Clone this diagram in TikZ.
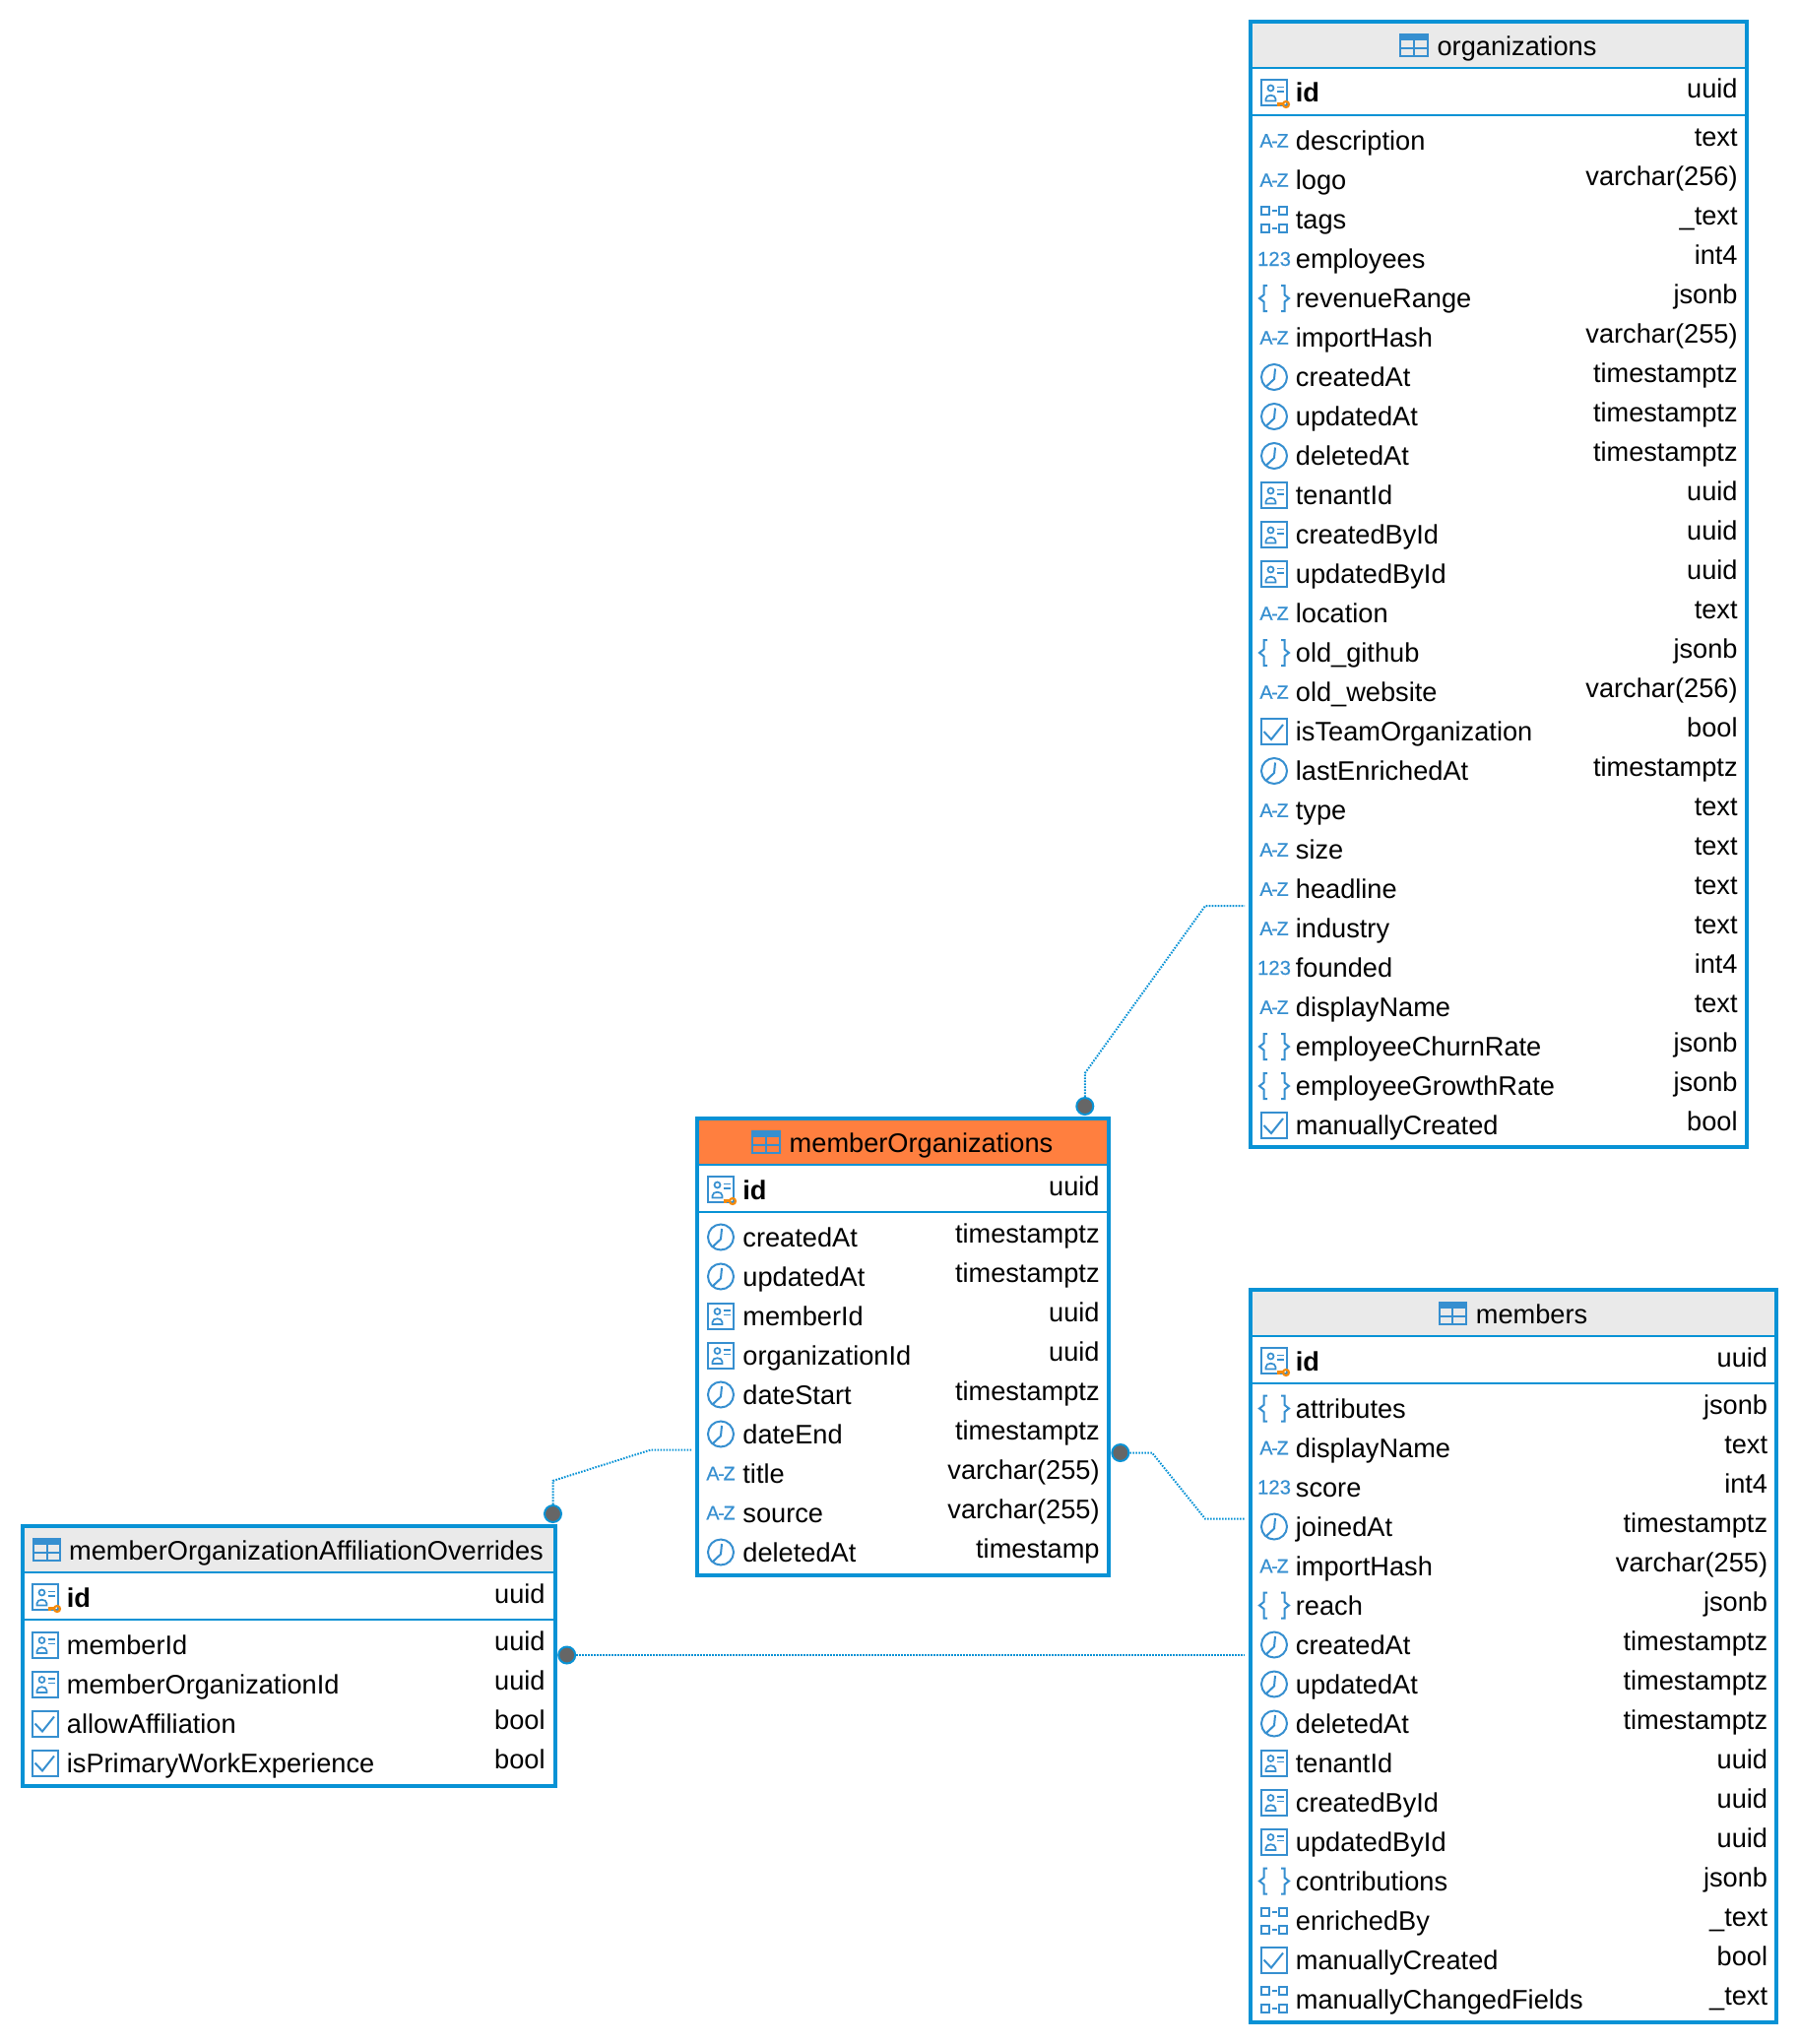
\documentclass[tikz,border=0pt]{standalone}
\usepackage{fontspec}
\setmainfont{Liberation Sans}
\newfontfamily\iconfont[FakeBold=0.35]{Liberation Sans}
\usepackage{tikz}
\usetikzlibrary{
    positioning,
    calc,
    fit
}
\definecolor{FrameBlue}{RGB}{8,146,213}
\definecolor{IconBlue}{RGB}{54,143,208}
\definecolor{HeadGray}{RGB}{234,234,234}
\definecolor{HeadOrange}{RGB}{255,127,63}
\definecolor{KeyOrange}{RGB}{245,138,11}
\definecolor{DotGray}{RGB}{102,102,102}

\tikzset{
    % table parts
    tablehead/.style={draw=FrameBlue, line width=1pt, fill=HeadGray, outer sep=0pt, inner sep=0pt, minimum height=23.5pt},
    tablekey/.style={draw=FrameBlue, line width=1pt, outer sep=0pt, inner sep=0pt, minimum height=24pt},
    tablebody/.style={draw=FrameBlue, line width=1pt, outer sep=0pt, inner sep=0pt},
    tableframe/.style={draw=FrameBlue, line width=2pt, inner sep=0pt, outer sep=0pt},
    tabletitle/.style={anchor=base, inner sep=0pt},
    colname/.style={anchor=base west, inner sep=0pt},
    coltype/.style={anchor=base east, inner sep=0pt},
    % connectors
    endpoint/.style={circle, draw=FrameBlue, line width=1pt, fill=DotGray, inner sep=0pt, minimum size=8.5pt},
    relation/.style={draw=FrameBlue, line width=1pt, dash pattern=on 0.8pt off 0.7pt},
    iconline/.style={draw=IconBlue, line width=1pt},
    iconthin/.style={draw=IconBlue, line width=0.85pt},
    % column icons, drawn in pixels
    pics/iconTable/.style={code={
        \fill[IconBlue] (-13.7,-10.8) rectangle (13.7,-5.5);
        \draw[iconline] (-13.7,-10.8) rectangle (13.7,10.8);
        \draw[iconline] (0,-6) -- (0,10.8) (-13.7,2.5) -- (13.7,2.5);
    }},
    pics/iconUuid/.style={code={
        \draw[iconline] (-13,-13) rectangle (13,13);
        \draw[iconthin] (-3.5,-4.5) circle[radius=3];
        \draw[iconthin] (2.5,-5.5) -- (10,-5.5) (2.5,-1) -- (10,-1);
        \draw[iconthin] (-8.5,8.5) -- (1.5,8.5) -- (1.5,6.5)
            .. controls (1.5,1.5) and (-8.5,1.5) .. (-8.5,6.5) -- cycle;
    }},
    pics/iconPkey/.style={code={
        \pic {iconUuid};
        \draw[KeyOrange, line width=1.1pt] (2.5,11.5) -- (9,11.5) (4.5,11.5) -- (4.5,14);
        \draw[KeyOrange, line width=1.1pt] (12,12) circle[radius=3];
    }},
    pics/iconClock/.style={code={
        \draw[iconline] (0,0) circle[radius=13];
        \draw[iconline] (1,-8.5) -- (0,2) -- (-8,9.5);
    }},
    pics/iconCheck/.style={code={
        \draw[iconline] (-13,-13) rectangle (13,13);
        \draw[iconline] (-10.5,0) -- (-3,8) -- (9,-7);
    }},
    pics/iconArray/.style={code={
        \draw[iconline] (-13,-13) rectangle (-5,-5) (5,-13) rectangle (13,-5);
        \draw[iconline] (-13,5) rectangle (-5,13) (5,5) rectangle (13,13);
        \draw[iconline] (-2.5,-9) -- (2.5,-9) (-2.5,9) -- (2.5,9);
    }},
    pics/iconJson/.style={code={
        \draw[iconline] (-7,-13) -- (-10.5,-13) -- (-10.5,-3.5) -- (-15,0) -- (-10.5,3.5) -- (-10.5,13) -- (-7,13);
        \draw[iconline] (7,-13) -- (10.5,-13) -- (10.5,-3.5) -- (15,0) -- (10.5,3.5) -- (10.5,13) -- (7,13);
    }},
    pics/iconText/.style={code={
        \node[IconBlue, inner sep=0pt, font=\iconfont\fontsize{9.8pt}{10pt}\selectfont] (azGlyph) at (0,0) {A\kern-0.6pt-\kern-0.6pt Z};
    }},
    pics/iconNumber/.style={code={
        \node[IconBlue, inner sep=0pt, font=\iconfont\fontsize{10.2pt}{10pt}\selectfont] (numGlyph) at (0,0) {123};
    }},
}

\begin{document}
\begin{tikzpicture}[
                    x=0.5pt, y=-0.5pt,
                    font=\fontsize{13.6pt}{16pt}\selectfont,
                ]
  \useasboundingbox (0,0) rectangle (1826,2076);

  % ---- organizations ----
  \def\iconX{1294}
  \def\nameX{1315.5}
  \def\typeX{1765}
  \def\baseY{112.5}
  \node[tablehead, minimum width=252pt, anchor=north west] (orgHead) at (1270,22) {};
  \node[tablekey, minimum width=252pt, below=0pt of orgHead] (orgKey) {};
  \node[tablebody, minimum width=252pt, minimum height=524pt, below=0pt of orgKey] (orgBody) {};
  \node[tableframe, fit=(orgHead)(orgKey)(orgBody)] (organizations) {};
  \node[tabletitle] (orgTitle) at ([yshift=-5.3pt]orgHead.center) {\hspace*{18.5pt}organizations};
  \pic at ([xshift=6.9pt,yshift=-0.3pt]orgTitle.west |- orgHead.center) {iconTable};
  \pic at (\iconX,94) {iconPkey};
  \node[colname] (orgKeyName) at (\nameX,104) {\textbf{id}};
  \node[coltype] (orgKeyType) at (\typeX,100) {uuid};
  \foreach \ic/\nm/\kind [count=\i] in {
      iconText/description/text, iconText/logo/varchar(256), iconArray/tags/\_text,
      iconNumber/employees/int4, iconJson/revenueRange/jsonb, iconText/importHash/varchar(255),
      iconClock/createdAt/timestamptz, iconClock/updatedAt/timestamptz, iconClock/deletedAt/timestamptz,
      iconUuid/tenantId/uuid, iconUuid/createdById/uuid, iconUuid/updatedById/uuid,
      iconText/location/text, iconJson/old\_github/jsonb, iconText/old\_website/varchar(256),
      iconCheck/isTeamOrganization/bool, iconClock/lastEnrichedAt/timestamptz, iconText/type/text,
      iconText/size/text, iconText/headline/text, iconText/industry/text,
      iconNumber/founded/int4, iconText/displayName/text, iconJson/employeeChurnRate/jsonb,
      iconJson/employeeGrowthRate/jsonb, iconCheck/manuallyCreated/bool} {
    \pic at (\iconX,\baseY+40*\i-9.5) {\ic};
    \node[colname] (orgName\i) at (\nameX,\baseY+40*\i) {\nm};
    \node[coltype] (orgType\i) at (\typeX,\baseY+40*\i-4) {\kind};
  }

  % ---- memberOrganizations ----
  \def\iconX{732}
  \def\nameX{754}
  \def\typeX{1117}
  \def\baseY{1226}
  \node[tablehead, fill=HeadOrange, minimum width=209pt, anchor=north west] (moHead) at (708,1136) {};
  \node[tablekey, minimum width=209pt, below=0pt of moHead] (moKey) {};
  \node[tablebody, minimum width=209pt, minimum height=184.5pt, below=0pt of moKey] (moBody) {};
  \node[tableframe, fit=(moHead)(moKey)(moBody)] (memberOrganizations) {};
  \node[tabletitle] (moTitle) at ([yshift=-5.3pt]moHead.center) {\hspace*{18.5pt}memberOrganizations};
  \pic at ([xshift=6.9pt,yshift=-0.3pt]moTitle.west |- moHead.center) {iconTable};
  \pic at (\iconX,1208) {iconPkey};
  \node[colname] (moKeyName) at (\nameX,1218) {\textbf{id}};
  \node[coltype] (moKeyType) at (\typeX,1214) {uuid};
  \foreach \ic/\nm/\kind [count=\i] in {
      iconClock/createdAt/timestamptz, iconClock/updatedAt/timestamptz, iconUuid/memberId/uuid,
      iconUuid/organizationId/uuid, iconClock/dateStart/timestamptz, iconClock/dateEnd/timestamptz,
      iconText/title/varchar(255), iconText/source/varchar(255), iconClock/deletedAt/timestamp} {
    \pic at (\iconX,\baseY+40*\i-9.5) {\ic};
    \node[colname] (moName\i) at (\nameX,\baseY+40*\i) {\nm};
    \node[coltype] (moType\i) at (\typeX,\baseY+40*\i-4) {\kind};
  }

  % ---- members ----
  \def\iconX{1294}
  \def\nameX{1315.5}
  \def\typeX{1795.5}
  \def\baseY{1400}
  \node[tablehead, minimum width=267pt, anchor=north west] (memHead) at (1270,1310) {};
  \node[tablekey, minimum width=267pt, below=0pt of memHead] (memKey) {};
  \node[tablebody, minimum width=267pt, minimum height=324.5pt, below=0pt of memKey] (memBody) {};
  \node[tableframe, fit=(memHead)(memKey)(memBody)] (members) {};
  \node[tabletitle] (memTitle) at ([yshift=-5.3pt]memHead.center) {\hspace*{18.5pt}members};
  \pic at ([xshift=6.9pt,yshift=-0.3pt]memTitle.west |- memHead.center) {iconTable};
  \pic at (\iconX,1382) {iconPkey};
  \node[colname] (memKeyName) at (\nameX,1392) {\textbf{id}};
  \node[coltype] (memKeyType) at (\typeX,1388) {uuid};
  \foreach \ic/\nm/\kind [count=\i] in {
      iconJson/attributes/jsonb, iconText/displayName/text, iconNumber/score/int4,
      iconClock/joinedAt/timestamptz, iconText/importHash/varchar(255), iconJson/reach/jsonb,
      iconClock/createdAt/timestamptz, iconClock/updatedAt/timestamptz, iconClock/deletedAt/timestamptz,
      iconUuid/tenantId/uuid, iconUuid/createdById/uuid, iconUuid/updatedById/uuid,
      iconJson/contributions/jsonb, iconArray/enrichedBy/\_text, iconCheck/manuallyCreated/bool,
      iconArray/manuallyChangedFields/\_text} {
    \pic at (\iconX,\baseY+40*\i-9.5) {\ic};
    \node[colname] (memName\i) at (\nameX,\baseY+40*\i) {\nm};
    \node[coltype] (memType\i) at (\typeX,\baseY+40*\i-4) {\kind};
  }

  % ---- memberOrganizationAffiliationOverrides ----
  \def\iconX{46}
  \def\nameX{67.5}
  \def\typeX{554}
  \def\baseY{1640}
  \node[tablehead, minimum width=270.5pt, anchor=north west] (ovrHead) at (22.5,1550) {};
  \node[tablekey, minimum width=270.5pt, below=0pt of ovrHead] (ovrKey) {};
  \node[tablebody, minimum width=270.5pt, minimum height=84.5pt, below=0pt of ovrKey] (ovrBody) {};
  \node[tableframe, fit=(ovrHead)(ovrKey)(ovrBody)] (affiliationOverrides) {};
  \node[tabletitle] (ovrTitle) at ([yshift=-5.3pt]ovrHead.center) {\hspace*{18pt}memberOrganizationAffiliationOverrides};
  \pic at ([xshift=6.9pt,yshift=-0.3pt]ovrTitle.west |- ovrHead.center) {iconTable};
  \pic at (\iconX,1622) {iconPkey};
  \node[colname] (ovrKeyName) at (\nameX,1632) {\textbf{id}};
  \node[coltype] (ovrKeyType) at (\typeX,1628) {uuid};
  \foreach \ic/\nm/\kind [count=\i] in {
      iconUuid/memberId/uuid, iconUuid/memberOrganizationId/uuid,
      iconCheck/allowAffiliation/bool, iconCheck/isPrimaryWorkExperience/bool} {
    \pic at (\iconX,\baseY+40*\i-9.5) {\ic};
    \node[colname] (ovrName\i) at (\nameX,\baseY+40*\i) {\nm};
    \node[coltype] (ovrType\i) at (\typeX,\baseY+40*\i-4) {\kind};
  }

  % ---- relations ----
  \node[endpoint] (dotOrg) at (1101.8,1123.5) {};
  \node[endpoint] (dotMem) at (1137.8,1475.5) {};
  \node[endpoint] (dotAffMo) at (561.5,1537.5) {};
  \node[endpoint] (dotAffMem) at (575.7,1681) {};

  \coordinate (orgBendA) at (1101.8,1090);
  \coordinate (orgBendB) at (1224,920);
  \coordinate (orgEnd) at (1264,920);
  \coordinate (memBendA) at (1170,1475.5);
  \coordinate (memBendB) at (1224,1542.7);
  \coordinate (memEnd) at (1264,1542.7);
  \coordinate (moBendA) at (561.5,1504);
  \coordinate (moBendB) at (661,1472.5);
  \coordinate (moEnd) at (702,1472.5);
  \coordinate (memEndB) at (1264,1681);

  \draw[relation] (dotOrg) -- (orgBendA) -- (orgBendB) -- (orgEnd);
  \draw[relation] (dotMem) -- (memBendA) -- (memBendB) -- (memEnd);
  \draw[relation] (dotAffMo) -- (moBendA) -- (moBendB) -- (moEnd);
  \draw[relation] (dotAffMem) -- (memEndB);
\end{tikzpicture}
\end{document}
